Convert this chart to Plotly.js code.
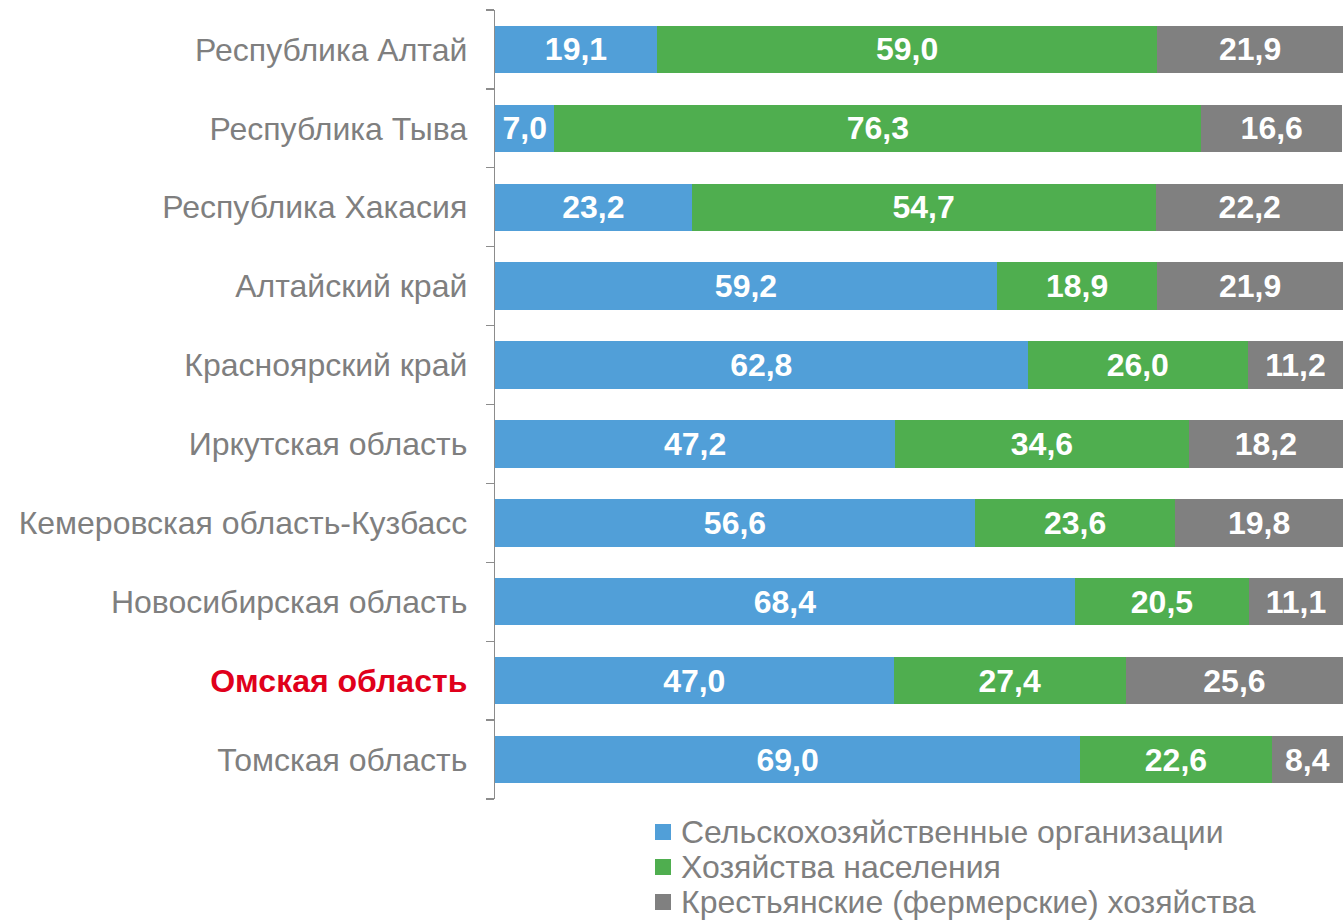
<!DOCTYPE html>
<html>
<head>
<meta charset="utf-8">
<script src="https://cdn.plot.ly/plotly-3.0.1.min.js"></script>
<style>
html,body{margin:0;padding:0;background:#fff;}
#chart{width:1343px;height:922px;}
</style>
</head>
<body>
<div id="chart"></div>
<script>
const regions = [
  "Республика Алтай",
  "Республика Тыва",
  "Республика Хакасия",
  "Алтайский край",
  "Красноярский край",
  "Иркутская область",
  "Кемеровская область-Кузбасс",
  "Новосибирская область",
  "Омская область",
  "Томская область"
];
const agriOrgs   = [19.1, 7.0, 23.2, 59.2, 62.8, 47.2, 56.6, 68.4, 47.0, 69.0];
const households = [59.0, 76.3, 54.7, 18.9, 26.0, 34.6, 23.6, 20.5, 27.4, 22.6];
const farms      = [21.9, 16.6, 22.2, 21.9, 11.2, 18.2, 19.8, 11.1, 25.6, 8.4];
const seriesNames = [
  "Сельскохозяйственные организации",
  "Хозяйства населения",
  "Крестьянские (фермерские) хозяйства"
];
const highlight = "Омская область";

const colors = ["#519FD8", "#4FAE4F", "#808080"];
const tickText = regions.map(r => r === highlight
  ? '<b><span style="color:#E0001B">' + r + '</span></b>' : r);

const mk = (vals, i) => ({
  type: 'bar',
  orientation: 'h',
  name: seriesNames[i],
  y: regions,
  x: vals,
  marker: {color: colors[i], line: {width: 0}},
  text: vals.map(v => v.toFixed(1).replace('.', ',')),
  textposition: 'inside',
  insidetextanchor: 'middle',
  constraintext: 'none',
  textfont: {family: 'Liberation Sans, Arial, sans-serif', size: 32, color: '#FFFFFF', weight: 'bold'},
  hoverinfo: 'skip',
  showlegend: false
});

const data = [mk(agriOrgs, 0), mk(households, 1), mk(farms, 2)];

// plot area geometry (pixels) -> paper coordinates for the legend block
const W = 1343, H = 922;
const M = {l: 495, r: 0, t: 10, b: 123};
const pw = W - M.l - M.r, ph = H - M.t - M.b;
const px = x => (x - M.l) / pw;
const py = y => (H - M.b - y) / ph;
const legendRows = [832, 867, 902];

const annotations = seriesNames.map((n, i) => ({
  xref: 'paper', yref: 'paper',
  x: px(679), y: py(legendRows[i]),
  xanchor: 'left', yanchor: 'middle',
  text: n, showarrow: false,
  font: {size: 32, color: '#7F7F7F', family: 'Liberation Sans, Arial, sans-serif'}
}));
const shapes = seriesNames.map((n, i) => ({
  type: 'rect', xref: 'paper', yref: 'paper',
  x0: px(655), x1: px(671),
  y0: py(legendRows[i] + 8), y1: py(legendRows[i] - 8),
  fillcolor: colors[i], line: {width: 0}
}));

const layout = {
  width: W,
  height: H,
  margin: {l: M.l, r: M.r, t: M.t, b: M.b, autoexpand: false},
  barmode: 'stack',
  bargap: 0.4,
  paper_bgcolor: '#FFFFFF',
  plot_bgcolor: '#FFFFFF',
  font: {family: 'Liberation Sans, Arial, sans-serif', color: '#7F7F7F'},
  showlegend: false,
  annotations: annotations,
  shapes: shapes,
  xaxis: {
    range: [0, 100],
    visible: false,
    fixedrange: true
  },
  yaxis: {
    autorange: 'reversed',
    type: 'category',
    tickmode: 'array',
    tickvals: regions,
    ticktext: tickText,
    tickson: 'boundaries',
    ticks: 'outside',
    ticklen: 8,
    tickcolor: '#8C8C8C',
    tickwidth: 1.3,
    showline: true,
    linecolor: '#8C8C8C',
    linewidth: 1.3,
    showgrid: false,
    zeroline: false,
    ticklabelstandoff: 20,
    tickfont: {size: 32, color: '#7F7F7F'}
  }
};

Plotly.newPlot('chart', data, layout, {displayModeBar: false, staticPlot: true});
</script>
</body>
</html>
